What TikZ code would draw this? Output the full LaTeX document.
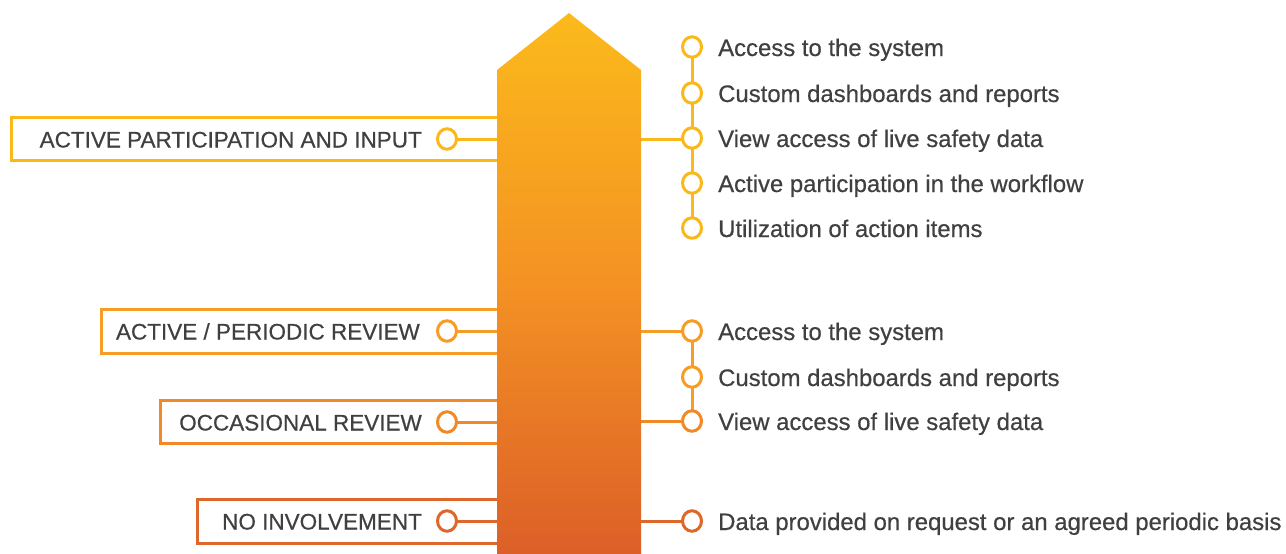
\documentclass[tikz,border=0pt]{standalone}
\usepackage{fontspec}
\setmainfont{Liberation Sans}[FakeBold=0.5]
\newfontfamily\condfont{Liberation Sans}[FakeBold=0.5]
\usetikzlibrary{shapes.geometric}
\definecolor{cA}{RGB}{251,184,27}
\definecolor{cB}{RGB}{247,156,36}
\definecolor{cC}{RGB}{241,137,40}
\definecolor{cD}{RGB}{222,104,43}
\definecolor{arrTop}{RGB}{251,186,27}
\definecolor{arrMid}{RGB}{244,146,35}
\definecolor{arrBot}{RGB}{220,95,40}
\definecolor{txt}{RGB}{64,64,64}
\tikzset{
  lvlbox/.style={draw=#1, line width=3pt, fill=white},
  ring/.style={draw=#1, line width=3pt, fill=white, ellipse, inner sep=0pt, minimum width=19pt, minimum height=20.5pt},
  wire/.style={draw=#1, line width=3pt},
  lefttext/.style={anchor=base east, text=txt, font=\condfont\fontsize{22.5}{26}\selectfont, inner sep=0pt},
  righttext/.style={anchor=base west, text=txt, font=\fontsize{23.9}{27}\selectfont, inner sep=0pt},
}
\begin{document}
\begin{tikzpicture}[x=1pt,y=-1pt]
\useasboundingbox (0,0) rectangle (1286,554);
% left boxes
\draw[lvlbox=cA] (11,117) rectangle (540,160);
\draw[lvlbox=cB] (101,309) rectangle (540,353);
\draw[lvlbox=cC] (160,400) rectangle (540,443);
\draw[lvlbox=cD] (197,499) rectangle (540,543);
% arrow
\shade[top color=arrTop, bottom color=arrBot, middle color=arrMid]
  (497,554) -- (497,70) -- (569,13) -- (641,70) -- (641,554) -- cycle;
% edge coordinates
\coordinate (aL1) at (497,139);
\coordinate (aL2) at (497,331);
\coordinate (aL3) at (497,422);
\coordinate (aL4) at (497,521);
\coordinate (aR1) at (641,139);
\coordinate (aR2) at (641,331);
\coordinate (aR3) at (641,421);
\coordinate (aR4) at (641,521);
% left labels and rings
\node[lefttext] (t1) at (422,147.5) {ACTIVE PARTICIPATION AND INPUT};
\node[lefttext] (t2) at (420,339.5) {ACTIVE / PERIODIC REVIEW};
\node[lefttext] (t3) at (422,430.5) {OCCASIONAL REVIEW};
\node[lefttext] (t4) at (422,529.5) {NO INVOLVEMENT};
\draw[wire=cA] (447,139) -- (aL1);
\draw[wire=cB] (447,331) -- (aL2);
\draw[wire=cC] (447,422) -- (aL3);
\draw[wire=cD] (447,521) -- (aL4);
\node[ring=cA] (L1) at (447,139) {};
\node[ring=cB] (L2) at (447,331) {};
\node[ring=cC] (L3) at (447,422) {};
\node[ring=cD] (L4) at (447,521) {};
% right group 1
\draw[wire=cA] (aR1) -- (692,139);
\draw[wire=cA] (692,47) -- (692,228);
\foreach \n/\y in {1/47,2/93,3/138,4/183,5/228}{
  \node[ring=cA] (g\n) at (692,\y) {};
}
\node[righttext] (s1) at (718,56) {Access to the system};
\node[righttext] (s2) at (718,102) {Custom dashboards and reports};
\node[righttext] (s3) at (718,147) {View access of live safety data};
\node[righttext] (s4) at (718,192) {Active participation in the workflow};
\node[righttext] (s5) at (718,237) {Utilization of action items};
% right group 2
\draw[wire=cB] (aR2) -- (692,331);
\draw[wire=cC] (aR3) -- (692,421);
\draw[wire=cB] (692,331) -- (692,421);
\node[ring=cB] (h1) at (692,331) {};
\node[ring=cB] (h2) at (692,377) {};
\node[ring=cC] (h3) at (692,421) {};
\node[righttext] (u1) at (718,340) {Access to the system};
\node[righttext] (u2) at (718,386) {Custom dashboards and reports};
\node[righttext] (u3) at (718,430) {View access of live safety data};
% right group 3
\draw[wire=cD] (aR4) -- (692,521);
\node[ring=cD] (k1) at (692,521) {};
\node[righttext] (v1) at (718,530) {Data provided on request or an agreed periodic basis};
\end{tikzpicture}
\end{document}
